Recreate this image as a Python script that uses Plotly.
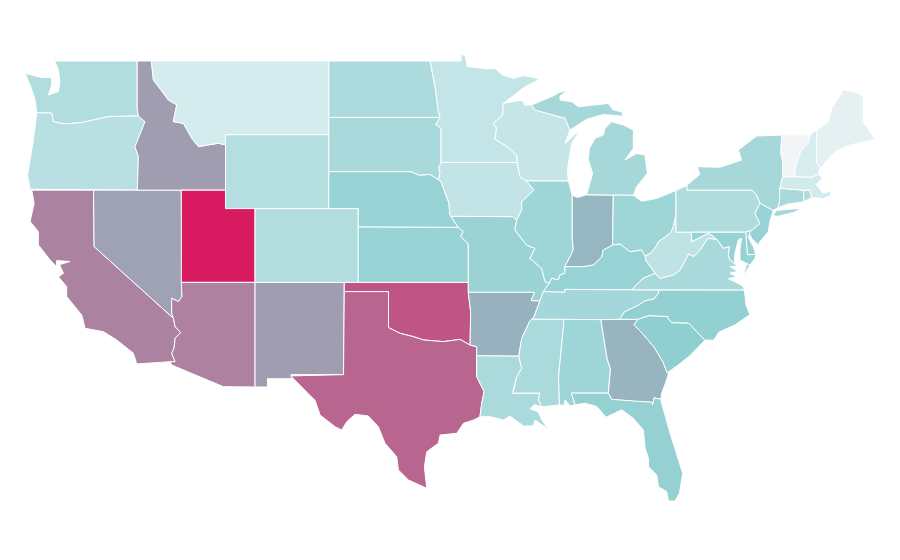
import plotly.graph_objects as go

# Values per state, estimated from the shade of each state in the picture
state_codes = ["WA","OR","CA","NV","ID","MT","WY","UT","AZ","NM","CO","ND","SD","NE","KS","OK","TX","MN","IA","MO","AR","LA",
               "WI","IL","IN","MI","OH","KY","TN","MS","AL","GA","FL","SC","NC","VA","WV","PA","NY","NJ","DE","MD","CT","RI","MA","VT","NH","ME"]
state_values = [19.5,18,59,47,49,10,19,100,60,49,19.5,21,22,27,27,77,70.5,14.7,15,26,41,21.5,
                14.4,25,39,23,25,27,23.5,21.5,25,40,27.5,29,28,22,16,20,23,27,27,27,22,20,11,0,9,5]

color_stops = [0, 10, 30, 100]
color_rgb = [(243, 244, 246), (213, 236, 238), (140, 205, 207), (216, 27, 96)]


def rev(chain):
    return chain[::-1]


# Shared borders (lon, lat)
columbia = [(-123.85,46.2),(-122.83,46.17),(-122.72,45.71),(-121.93,45.59),(-120.8,45.66),(-119,45.99),(-116.96,46.02)]
snake = [(-116.96,46.02),(-116.51,45.71),(-116.85,45.02),(-117.19,44.36),(-116.96,43.82),(-117.03,42)]
id_mt = [(-116.08,49),(-115.94,47.97),(-115.3,47.3),(-114.93,46.89),(-114.36,46.62),(-114.59,45.71),(-113.91,45.62),(-113.34,44.81),(-112.89,44.36),(-111.53,44.54),(-111.05,44.45)]
colorado = [(-114.7,36.14),(-114.7,35.32),(-114.58,35.05),(-114.47,34.6),(-114.09,34.28),(-114.47,33.97),(-114.54,33.43),(-114.7,33.16),(-114.47,32.7),(-114.81,32.7)]
red_river = [(-100,34.55),(-99.22,34.24),(-98.32,34.06),(-97.64,33.88),(-96.28,33.79),(-95.15,33.91),(-94.47,33.6)]
sabine = [(-94.02,33.02),(-94.02,31.89),(-93.52,31.08),(-93.68,30.44),(-93.8,29.72)]
red_north = [(-97.18,49),(-96.84,47.61),(-96.62,46.26),(-96.5,45.94)]
mn_sd = [(-96.5,45.94),(-96.8,45.57),(-96.44,45.35),(-96.44,43.5)]
big_sioux = [(-96.44,43.5),(-96.6,43.2),(-96.5,42.95),(-96.63,42.55),(-96.45,42.49)]
missouri = [(-96.45,42.49),(-96.25,42),(-96.1,41.7),(-95.9,41.3),(-95.85,40.7),(-95.77,40.58)]
ne_sd = [(-96.45,42.49),(-97.2,42.85),(-97.9,42.8),(-98.5,43),(-104.05,43)]
ks_mo = [(-95.27,39.98),(-94.93,39.75),(-95.1,39.5),(-94.59,39.08),(-94.59,37)]
mn_wi = [(-92.22,46.7),(-92.26,46.07),(-92.89,45.62),(-92.67,45.35),(-92.78,44.75),(-92.1,44.44),(-91.31,43.9),(-91.27,43.5)]
ia_wi = [(-91.27,43.5),(-91.09,42.73),(-90.64,42.5)]
ia_il = [(-90.64,42.5),(-90.14,42),(-90.97,41.37),(-90.97,40.92),(-91.31,40.38)]
mo_il = [(-91.31,40.38),(-91.43,39.84),(-90.64,39.02),(-90.07,38.84),(-90.41,38.3),(-89.62,37.76),(-89.39,37.04),(-89.1,36.95)]
ar_east = [(-90.1,36.46),(-90.34,36.01),(-89.73,35.99),(-90.18,35.05),(-90.41,34.92),(-90.97,33.96),(-91.17,33)]
ms_la = [(-91.17,33),(-90.97,32.34),(-91.3,31.9),(-91.53,31.08),(-91.6,31),(-89.73,31),(-89.84,30.66),(-89.6,30.25)]
ohio_r = [(-82.6,38.42),(-82.84,38.75),(-83.63,38.66),(-84.31,39.08),(-84.81,39.02),(-85.44,38.75),(-85.55,38.36),(-86.12,37.94),(-86.8,37.85),(-88.04,37.85)]
il_ky = [(-88.04,37.85),(-88.04,37.49),(-88.38,37.4),(-88.49,37.13),(-88.94,37.22),(-89.1,36.95)]
il_in = [(-87.54,41.73),(-87.54,39.35),(-87.47,38.75),(-88.04,37.85)]
wi_up = [(-90.3,46.61),(-90.07,46.34),(-89.1,46.13),(-88.03,45.89),(-87.7,45.26)]
ky_tn = [(-89.5,36.5),(-88.04,36.46),(-88.04,36.62),(-83.52,36.6)]
ky_va = [(-83.52,36.6),(-82.73,37.22),(-81.93,37.49)]
ky_wv = [(-81.93,37.49),(-82.55,38.2),(-82.6,38.42)]
oh_wv = [(-82.6,38.42),(-82.2,38.6),(-81.85,38.95),(-81.7,39.2),(-80.85,39.7),(-80.7,40),(-80.51,40.64)]
va_wv = [(-81.93,37.49),(-81.59,37.22),(-80.69,37.4),(-80.24,37.67),(-79.65,38.55),(-79.3,38.4),(-78.87,38.77),(-78.35,39.4),(-77.72,39.32)]
md_wv = [(-77.72,39.32),(-78.09,39.57),(-78.32,39.66),(-79.45,39.21),(-79.45,39.72)]
va_md = [(-76.4,37.94),(-76.85,38.22),(-76.96,38.49),(-76.89,38.94),(-77.3,38.85),(-77.72,39.32)]
nc_tn = [(-84.32,35),(-84,35.4),(-83.1,35.75),(-82.6,36),(-82,36.1),(-81.7,36.4),(-81.68,36.59)]
nc_sc = [(-83.1,35),(-82.35,35.2),(-81.05,35.15),(-81.05,35.05),(-80.8,34.82),(-79.67,34.8),(-78.55,33.87)]
ga_sc = [(-83.1,35),(-83.35,34.7),(-82.75,34.2),(-82,33.5),(-81.4,32.7),(-81.1,32.1),(-81.02,32.1)]
ga_fl = [(-84.87,30.66),(-83.17,30.54),(-82.15,30.5),(-82.09,30.36),(-81.99,30.75),(-81.54,30.66)]
al_ga = [(-85.6,34.98),(-85.18,32.87),(-84.95,32.3),(-85.05,31.5),(-85.09,31)]
pa_nj = [(-74.81,41.29),(-75.15,40.75),(-74.81,40.2),(-75.4,39.8)]
ny_pa = [(-79.76,42),(-75.35,42),(-75.05,41.75),(-74.81,41.29)]

S = {
"WA":[[(-124.64,48.33),(-123.63,48.12),(-122.85,48.1),(-122.83,47.7),(-123.06,47.16),(-122.38,47.34),(-122.28,47.9),(-122.38,48.5),(-122.61,48.96),(-122.68,49),(-117.04,49),(-117.04,46.42)] + rev(columbia) + [(-123.96,46.89),(-124.3,47.7)]],
"OR":[columbia + snake + [(-124.3,42.05),(-124.48,42.82),(-124.08,44.72)]],
"CA":[[(-124.19,42),(-120,42),(-119.96,38.94),(-114.58,35.05),(-114.47,34.6),(-114.09,34.28),(-114.47,33.97),(-114.54,33.43),(-114.7,33.16),(-114.47,32.7),(-114.81,32.7),(-117.07,32.58),(-117.3,33.16),(-118.43,33.88),(-119.33,34.33),(-120.57,34.51),(-120.8,35.23),(-121.82,36.23),(-121.82,36.77),(-122.38,37.3),(-122.04,37.49),(-122.31,37.96),(-121.59,38.13),(-122.5,38.18),(-122.5,37.85),(-122.95,38.22),(-123.74,39.03),(-123.74,39.75),(-124.3,40.3),(-124.03,41.29)]],
"NV":[[(-120,42),(-114.05,42),(-114,36.23),(-114.25,35.96),(-114.7,36.14),(-114.7,35.32),(-114.58,35.05),(-119.96,38.94)]],
"ID":[[(-117.04,49)] + id_mt + [(-111.05,42)] + rev(snake) + [(-117.04,46.42)]],
"MT":[id_mt + [(-111.05,45),(-104.05,45),(-104.05,49)]],
"WY":[[(-111.05,45),(-104.05,45),(-104.05,41),(-111.05,41)]],
"UT":[[(-114.05,42),(-111.05,42),(-111.05,41),(-109.05,41),(-109.05,37),(-114.05,37)]],
"AZ":[[(-114.05,37),(-109.05,37),(-109.05,31.33),(-111.2,31.35),(-114.7,32.52)] + rev(colorado) + [(-114.25,35.96),(-114,36.23)]],
"NM":[[(-109.05,37),(-103,37),(-103.05,32),(-106.62,32),(-106.53,31.78),(-108.21,31.78),(-108.21,31.33),(-109.05,31.33)]],
"CO":[[(-109.05,41),(-102.05,41),(-102.05,37),(-109.05,37)]],
"ND":[[(-104.05,49)] + red_north + [(-104.05,45.94)]],
"SD":[[(-104.05,45.94)] + mn_sd + big_sioux + ne_sd],
"NE":[rev(ne_sd) + missouri + [(-95.27,39.98),(-102.05,40),(-102.05,41),(-104.05,41)]],
"KS":[ks_mo + [(-102.05,37),(-102.05,40)]],
"OK":[[(-103,37),(-94.59,37),(-94.59,36.46),(-94.43,35.4),(-94.47,33.6)] + rev(red_river) + [(-100,36.5),(-103,36.5)]],
"TX":[[(-103,36.5),(-100,36.5)] + red_river + [(-94.02,33.52)] + sabine + [(-94.2,29.55),(-94.92,29.36),(-95.37,28.82),(-96.5,28.73),(-96.62,28.28),(-97.41,27.82),(-97.57,27),(-97.41,25.84),(-98.65,26.29),(-99.33,26.83),(-99.44,27.55),(-100.24,28.28),(-100.69,29.18),(-101.37,29.76),(-102.27,29.85),(-102.83,29.45),(-103.17,29),(-103.63,29.18),(-104.64,29.81),(-104.98,30.6),(-106.22,31.62),(-106.63,31.93),(-103.05,32)]],
"MN":[[(-97.18,49),(-95.08,49),(-95.08,49.33),(-94.81,49.33),(-94.65,48.7),(-93.34,48.57),(-92.77,48.6),(-92.28,48.24),(-91.53,48.06),(-90.85,48.21),(-89.72,48.03),(-90.74,47.61)] + mn_wi + rev(mn_sd) + rev(red_north)[1:]],
"IA":[[(-96.44,43.5),(-91.27,43.5)] + ia_wi + ia_il + [(-91.59,40.56),(-95.77,40.58)] + rev(missouri) + rev(big_sioux)],
"MO":[[(-95.77,40.58),(-91.59,40.56)] + mo_il + [(-89.5,36.5),(-89.73,35.99),(-90.34,36.01),(-90.1,36.46),(-94.59,36.46)] + rev(ks_mo)],
"AR":[[(-94.59,36.46)] + ar_east + [(-94.02,33.02),(-94.02,33.52),(-94.47,33.6),(-94.43,35.4)]],
"LA":[ms_la + [(-90.1,30.37),(-90.4,30.15),(-89.85,29.98),(-89.61,29.54),(-89.16,29.04),(-90.06,29.54),(-90.18,29.22),(-90.85,29.22),(-91.76,29.76),(-92.21,29.54),(-93.11,29.72)] + rev(sabine)],
"WI":[[(-92.22,46.7),(-90.93,46.88),(-90.75,46.61)] + wi_up + [(-88.03,44.53),(-87.02,45.26),(-87.58,44.53),(-87.88,43.09),(-87.8,42.49)] + rev(ia_wi) + rev(mn_wi)[1:]],
"IL":[[(-90.64,42.5),(-87.8,42.49)] + il_in + il_ky + rev(mo_il)[1:] + rev(ia_il)[1:]],
"IN":[[(-87.54,41.73),(-87.2,41.6),(-86.57,41.75),(-84.76,41.73)] + ohio_r[4:] + rev(il_in)[1:]],
"MI":[[(-86.57,41.75),(-84.76,41.73),(-83.4,41.72),(-83.17,42.19),(-82.45,42.91),(-82.61,43.9),(-83.17,43.99),(-83.97,43.63),(-83.4,44.26),(-83.4,45.26),(-84.08,45.53),(-84.87,45.71),(-85.32,45.35),(-85.44,44.99),(-86,44.8),(-86.39,44.26),(-86.45,43.63),(-86.16,42.91)],
      [(-90.3,46.61),(-89.5,46.88),(-88.71,47.15),(-88.49,47.28),(-87.81,47.43),(-88.37,47.1),(-88.37,46.88),(-87.58,46.79),(-87.13,46.52),(-86.1,46.61),(-85.1,46.7),(-84.76,46.34),(-84.19,46.25),(-84.08,46),(-85.44,46.1),(-86.57,45.84),(-87.2,45.53)] + rev(wi_up)[:-1]],
"OH":[[(-84.76,41.73),(-83.4,41.72),(-82.83,41.4),(-81.82,41.55),(-80.51,41.98)] + rev(oh_wv) + ohio_r[1:5]],
"KY":[ohio_r + il_ky[1:] + ky_tn + ky_va[1:] + ky_wv[1:]],
"TN":[ky_tn + rev(nc_tn) + [(-85.6,34.98),(-88.2,35),(-90.3,35),(-90.18,35.05),(-89.73,35.99)]],
"MS":[[(-90.3,35),(-88.2,35),(-88.1,34.9),(-88.47,31.9),(-88.41,30.36),(-89.45,30.27)] + rev(ms_la) + [(-90.97,33.96),(-90.41,34.92)]],
"AL":[[(-88.2,35)] + al_ga + [(-87.6,31),(-87.46,30.66),(-87.35,30.36),(-87.69,30.3),(-88.03,30.63),(-88.1,30.33),(-88.41,30.36),(-88.47,31.9),(-88.1,34.9)]],
"GA":[[(-85.6,34.98),(-83.1,35)] + ga_sc[1:] + [(-81.14,31.71),(-81.48,30.99)] + rev(ga_fl) + rev(al_ga)[:-1]],
"FL":[[(-87.6,31),(-85.09,31)] + ga_fl + [(-81.48,30.45),(-80.91,28.82),(-80.23,27.2),(-80.05,26.65),(-80.28,25.57),(-80.57,25.15),(-81.02,25.15),(-81.14,25.66),(-81.7,25.93),(-81.81,26.56),(-82.38,27.01),(-82.38,27.47),(-82.6,28.01),(-82.72,29),(-83.4,29.63),(-84.19,30.09),(-85.25,29.69),(-85.88,30.27),(-86.67,30.45),(-87.35,30.36),(-87.46,30.66)]],
"SC":[nc_sc + [(-79.1,33.4),(-79.6,33),(-80.4,32.5),(-81.02,32.1)] + rev(ga_sc)[1:]],
"NC":[nc_tn + [(-75.87,36.59),(-75.76,35.78),(-75.5,35.25),(-76.5,34.7),(-77.6,34.3),(-77.95,33.87)] + rev(nc_sc)],
"VA":[[(-83.52,36.6),(-81.68,36.59),(-75.87,36.59),(-75.94,36.77),(-76.3,36.95),(-76.96,37.2),(-76.4,37.3),(-76.85,37.5),(-76.3,37.6),(-76.85,37.85),(-76.3,37.9)] + va_md + rev(va_wv) + rev(ky_va)[1:],
      [(-75.49,37.94),(-75.94,37.31),(-75.72,38.03)]],
"WV":[va_wv + md_wv[1:] + [(-80.51,39.72)] + rev(oh_wv) + [(-82.55,38.2)]],
"PA":[[(-80.51,41.98),(-79.76,42.27)] + ny_pa + pa_nj + [(-75.78,39.72),(-80.51,39.72)]],
"NY":[[(-79.76,42.27),(-78.9,42.85),(-79.05,43.27),(-77.52,43.24),(-76.06,43.63),(-76.28,44.18),(-75.04,44.93),(-73.34,44.99),(-73.4,44),(-73.28,43.6),(-73.28,42.73),(-73.46,42.1),(-73.5,41.3),(-73.6,41.05),(-73.91,40.89),(-74.81,41.29)] + rev(ny_pa),
      [(-73.95,40.62),(-73.7,40.9),(-72.6,40.98),(-71.99,41.01),(-72.5,40.8),(-73.6,40.58)]],
"NJ":[[(-74.81,41.29),(-73.91,40.89),(-74.14,40.3),(-74.25,39.75),(-74.81,39.21),(-74.93,39.03),(-75.38,39.39),(-75.6,39.75),(-75.4,39.8),(-74.81,40.2),(-75.15,40.75)]],
"DE":[[(-75.78,39.72),(-75.45,39.8),(-75.6,39.45),(-75.27,38.94),(-75.1,38.52),(-75.67,38.49)]],
"MD":[[(-79.45,39.72),(-75.78,39.72),(-75.67,38.49),(-75.1,38.52),(-75.15,38.3),(-75.49,37.94),(-75.72,38.03),(-76.17,38.22),(-76.17,38.85),(-76.06,39.39),(-76.28,39.3),(-76.51,38.58),(-76.55,38.1),(-76.4,37.94)] + va_md[1:] + md_wv[1:]],
"CT":[[(-73.46,42.1),(-71.87,42),(-71.83,41.37),(-72.9,41.25),(-73.6,41.05),(-73.5,41.3)]],
"RI":[[(-71.87,42),(-71.42,42),(-71.31,41.6),(-71.83,41.37)]],
"MA":[[(-73.46,42.1),(-73.28,42.73),(-71.3,42.7),(-70.85,42.88),(-70.6,42.65),(-71,42.3),(-70.52,41.83),(-70.02,41.95),(-70.02,41.7),(-70.52,41.55),(-71.31,41.6),(-71.42,42),(-71.87,42)]],
"VT":[[(-73.34,44.99),(-71.42,44.99),(-71.55,44.55),(-72.05,44.1),(-72.44,43.18),(-72.44,42.73),(-73.28,42.73),(-73.28,43.6),(-73.4,44)]],
"NH":[[(-71.42,44.99),(-70.97,45.26),(-70.97,43.5),(-70.74,43.18),(-70.85,42.88),(-71.3,42.7),(-72.44,42.73),(-72.44,43.18),(-72.05,44.1),(-71.55,44.55)]],
"ME":[[(-70.97,45.26),(-70.18,45.71),(-69.95,46.43),(-69.16,47.43),(-68.26,47.28),(-67.81,47.07),(-67.81,45.71),(-67.01,44.75),(-68.71,44.45),(-69.73,44.08),(-70.74,43.18),(-70.97,43.5)]],
}


def shade(v):
    for i in range(len(color_stops) - 1):
        lo, hi = color_stops[i], color_stops[i + 1]
        if v <= hi:
            t = (v - lo) / (hi - lo)
            a, b = color_rgb[i], color_rgb[i + 1]
            return "rgb(%d,%d,%d)" % tuple(round(a[k] + (b[k] - a[k]) * t) for k in range(3))
    return "rgb(%d,%d,%d)" % color_rgb[-1]


fig = go.Figure()
for code, value in zip(state_codes, state_values):
    xs, ys = [], []
    for ring in S[code]:
        xs += [p[0] for p in ring] + [ring[0][0], None]
        ys += [p[1] for p in ring] + [ring[0][1], None]
    fig.add_trace(go.Scatter(x=xs, y=ys, mode="lines", fill="toself", fillcolor=shade(value),
                             line=dict(color="white", width=1), name=code,
                             hovertemplate=code + ": %{customdata}<extra></extra>",
                             customdata=[value] * len(xs), showlegend=False))

fig.update_layout(width=892, height=552, margin=dict(l=0, r=0, t=0, b=0), showlegend=False,
                  paper_bgcolor="white", plot_bgcolor="white",
                  xaxis=dict(visible=False, range=[-125.80, -65.32], fixedrange=True),
                  yaxis=dict(visible=False, range=[21.953, 51.872], fixedrange=True))
fig.write_html("out.html")
